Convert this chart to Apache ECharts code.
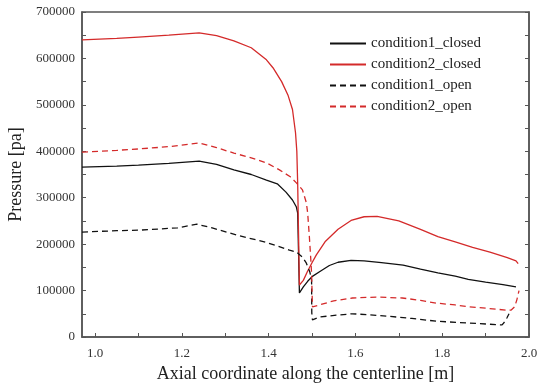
<!DOCTYPE html>
<html>
<head>
<meta charset="utf-8">
<script src="https://cdn.jsdelivr.net/npm/echarts@6/dist/echarts.min.js"></script>
<style>
  html, body { margin: 0; padding: 0; background: #fff; }
  #chart { width: 538px; height: 386px; }
</style>
</head>
<body>
<div id="chart"></div>
<script>
// [axial coordinate (m), pressure (pa)]
const cond1Closed = [
  [0.970, 366000], [1.05, 368000], [1.10, 370000], [1.17, 374000], [1.24, 379000],
  [1.28, 372000], [1.32, 360000], [1.36, 350000], [1.395, 338000], [1.42, 330000],
  [1.44, 312000], [1.455, 295000], [1.464, 280000], [1.467, 267000], [1.469, 180000],
  [1.471, 95000], [1.48, 108000], [1.49, 120000], [1.50, 130000], [1.52, 142000],
  [1.54, 154000], [1.56, 161000], [1.59, 165000], [1.62, 164000], [1.66, 160000],
  [1.71, 155000], [1.75, 146000], [1.79, 138000], [1.83, 131000], [1.86, 124000],
  [1.90, 118000], [1.94, 113000], [1.97, 108000]
]
const cond2Closed = [
  [0.970, 640000], [1.05, 643000], [1.10, 646000], [1.17, 650000], [1.24, 655000],
  [1.28, 649000], [1.32, 638000], [1.36, 623000], [1.395, 597000], [1.41, 580000],
  [1.43, 550000], [1.445, 520000], [1.455, 490000], [1.462, 440000], [1.465, 400000],
  [1.467, 330000], [1.469, 220000], [1.471, 112000], [1.48, 122000], [1.49, 142000],
  [1.50, 160000], [1.51, 177000], [1.53, 205000], [1.56, 232000], [1.59, 251000],
  [1.62, 259000], [1.65, 260000], [1.70, 250000], [1.75, 232000], [1.79, 216000],
  [1.83, 205000], [1.87, 193000], [1.91, 183000], [1.95, 171000], [1.97, 164000],
  [1.975, 158000]
]
const cond1Open = [
  [0.970, 226000], [1.05, 229000], [1.10, 230000], [1.19, 235000], [1.235, 243000],
  [1.27, 235000], [1.31, 224000], [1.35, 214000], [1.39, 205000], [1.42, 196000],
  [1.448, 187000], [1.464, 183000], [1.478, 172000], [1.487, 159000], [1.495, 140000],
  [1.499, 123000], [1.4995, 52000], [1.501, 37000], [1.517, 43000], [1.556, 47000],
  [1.593, 50000], [1.63, 48000], [1.671, 45000], [1.73, 40000], [1.786, 34000],
  [1.862, 30000], [1.938, 26000], [1.945, 34000], [1.949, 41000], [1.954, 50000]
]
const cond2Open = [
  [0.970, 398000], [1.05, 402000], [1.10, 405000], [1.17, 410000], [1.24, 418000],
  [1.28, 408000], [1.32, 396000], [1.36, 386000], [1.395, 375000], [1.425, 360000],
  [1.45, 345000], [1.464, 332000], [1.478, 317000], [1.487, 289000], [1.490, 267000],
  [1.494, 215000], [1.497, 170000], [1.499, 138000], [1.501, 65000], [1.517, 69000],
  [1.55, 78000], [1.593, 84000], [1.648, 86000], [1.708, 84000], [1.75, 79000],
  [1.786, 73000], [1.83, 69000], [1.862, 65000], [1.90, 62000], [1.947, 58000],
  [1.959, 58000], [1.967, 65000], [1.972, 80000], [1.977, 100000]
]

const xLabels = [1.0, 1.2, 1.4, 1.6, 1.8, 2.0]
const xTicks = [1.0, 1.1, 1.2, 1.3, 1.4, 1.5, 1.6, 1.7, 1.8, 1.9, 2.0]
const yLabels = [0, 100000, 200000, 300000, 400000, 500000, 600000, 700000]
const yTicks = [0, 50000, 100000, 150000, 200000, 250000, 300000, 350000, 400000,
  450000, 500000, 550000, 600000, 650000, 700000]

const red = '#d42a2a'
const black = '#111111'
const axisColor = '#555555'
const font = '"Liberation Serif", "DejaVu Serif", serif'

const chart = echarts.init(document.getElementById('chart'))

function line(name, data, color, dashed) {
  return {
    name: name,
    type: 'line',
    data: data,
    symbol: 'none',
    smooth: false,
    lineStyle: { color: color, width: 1.3, type: dashed ? [6, 4] : 'solid' },
    itemStyle: { color: color }
  }
}

chart.setOption({
  animation: false,
  grid: {
    left: 82, right: 9, top: 12, bottom: 49,
    outerBoundsMode: 'none',
    show: true, borderColor: axisColor, borderWidth: 1.5
  },
  legend: {
    orient: 'vertical',
    left: 324,
    top: 31,
    itemWidth: 36,
    itemHeight: 14,
    itemGap: 6,
    itemStyle: { opacity: 0 },
    textStyle: { fontFamily: font, fontSize: 15, color: '#222' }
  },
  xAxis: {
    type: 'value',
    min: 0.97,
    max: 2.0,
    name: 'Axial coordinate along the centerline [m]',
    nameLocation: 'middle',
    nameGap: 27,
    nameTextStyle: { fontFamily: font, fontSize: 18, color: '#222' },
    axisLine: { lineStyle: { color: axisColor, width: 1.5 } },
    axisTick: { inside: true, length: 4, customValues: xTicks, lineStyle: { color: axisColor } },
    axisLabel: {
      customValues: xLabels,
      fontFamily: font, fontSize: 13, color: '#333', margin: 10,
      formatter: v => v.toFixed(1)
    },
    splitLine: { show: false }
  },
  yAxis: [
    {
      type: 'value',
      min: 0,
      max: 700000,
      interval: 100000,
      name: 'Pressure [pa]',
      nameLocation: 'middle',
      nameGap: 57,
      nameTextStyle: { fontFamily: font, fontSize: 18, color: '#222' },
      axisLine: { show: true, lineStyle: { color: axisColor, width: 1.5 } },
      axisTick: { show: true, inside: true, length: 4, customValues: yTicks, lineStyle: { color: axisColor } },
      axisLabel: {
        customValues: yLabels, fontFamily: font, fontSize: 13, color: '#333', margin: 7,
        formatter: v => String(v)
      },
      splitLine: { show: false }
    },
    {
      type: 'value',
      min: 0,
      max: 700000,
      interval: 100000,
      position: 'right',
      axisLine: { show: true, lineStyle: { color: axisColor, width: 1.5 } },
      axisTick: { show: true, inside: true, length: 4, customValues: yTicks, lineStyle: { color: axisColor } },
      axisLabel: { show: false },
      splitLine: { show: false }
    }
  ],
  series: [
    line('condition1_closed', cond1Closed, black, false),
    line('condition2_closed', cond2Closed, red, false),
    line('condition1_open', cond1Open, black, true),
    line('condition2_open', cond2Open, red, true)
  ]
})
</script>
</body>
</html>
